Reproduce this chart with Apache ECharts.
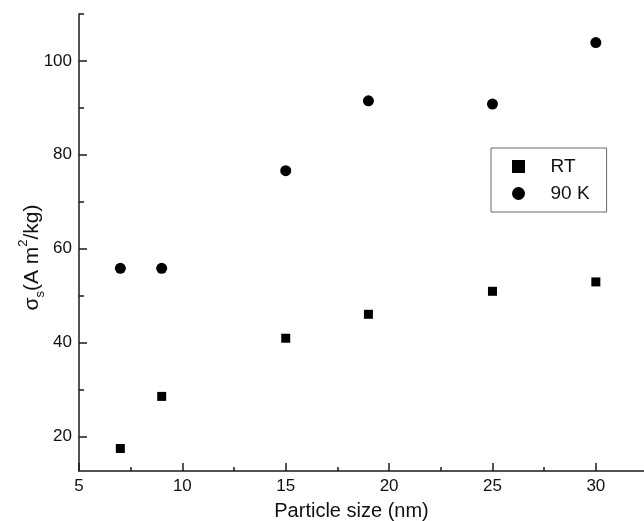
<!DOCTYPE html>
<html>
<head>
<meta charset="utf-8">
<script src="https://cdn.jsdelivr.net/npm/echarts@6/dist/echarts.min.js"></script>
<style>
  html, body { margin: 0; padding: 0; background: #fff; }
  #chart { width: 644px; height: 521px; }
</style>
</head>
<body>
<div id="chart"></div>
<script>
// Particle size (nm) of each sample
const particleSize = [7, 9, 15, 19, 25, 30];
// Saturation magnetisation at room temperature and at 90 K
const sigmaRT = [17.4, 28.5, 40.9, 46.0, 50.9, 52.9];
const sigma90K = [55.8, 55.8, 76.6, 91.5, 90.8, 103.9];

// Axis ticks
const xMajorTicks = [5, 10, 15, 20, 25, 30];
const xMinorTicks = [7.5, 12.5, 17.5, 22.5, 27.5];
const yMajorTicks = [20, 40, 60, 80, 100];
const yMinorTicks = [30, 50, 70, 90, 110];

const FONT = '"Liberation Sans", Arial, Helvetica, sans-serif';
const INK = '#111';
const LINE = '#1a1a1a';
const SQUARE = 'path://M0,0H10V10H0Z';

const xRange = { min: 5, max: 32.33 };
const yRange = { min: 12.6, max: 110 };

const chart = echarts.init(document.getElementById('chart'), null, { renderer: 'canvas' });

function toPairs(xs, ys) {
  return xs.map((x, i) => [x, ys[i]]);
}

const option = {
  backgroundColor: '#fff',
  animation: false,
  textStyle: { fontFamily: FONT, color: INK },
  grid: { left: 79, right: 0, top: 14, bottom: 50, containLabel: false, outerBoundsMode: 'none' },
  legend: {
    orient: 'vertical',
    left: 491,
    top: 148,
    padding: [9, 17, 9, 21],
    itemGap: 8,
    itemWidth: 54,
    itemHeight: 13,
    symbolKeepAspect: true,
    borderColor: '#666',
    borderWidth: 1,
    textStyle: { fontFamily: FONT, fontSize: 19, color: INK },
    data: [
      { name: 'RT', icon: SQUARE, itemStyle: { color: '#000', opacity: 1 } },
      { name: '90 K', icon: 'circle', itemStyle: { color: '#000', opacity: 1 } }
    ]
  },
  xAxis: [
    {
      type: 'value',
      min: xRange.min, max: xRange.max,
      name: 'Particle size (nm)',
      nameLocation: 'middle',
      nameGap: 30,
      nameMoveOverlap: false,
      nameTextStyle: { fontFamily: FONT, fontSize: 20, color: INK, padding: [0, 20, 0, 0] },
      axisLine: { show: true, onZero: false, lineStyle: { color: LINE, width: 1.5 } },
      axisTick: { show: true, inside: true, length: 8, customValues: xMajorTicks,
                  lineStyle: { color: LINE, width: 1.5 } },
      axisLabel: { show: true, customValues: xMajorTicks, fontFamily: FONT, fontSize: 17,
                   color: INK, margin: 7 },
      splitLine: { show: false }
    },
    {
      type: 'value',
      min: xRange.min, max: xRange.max,
      position: 'bottom',
      offset: 0,
      axisLine: { show: false, onZero: false },
      axisTick: { show: true, inside: true, length: 4, customValues: xMinorTicks,
                  lineStyle: { color: LINE, width: 1.5 } },
      axisLabel: { show: false },
      splitLine: { show: false }
    }
  ],
  yAxis: [
    {
      type: 'value',
      min: yRange.min, max: yRange.max,
      name: '{t|σ}{sub|s}{t|(A m}{sup|2}{t|/kg)}',
      nameLocation: 'middle',
      nameRotate: 90,
      nameGap: 32,
      nameMoveOverlap: false,
      nameTextStyle: {
        fontFamily: FONT, color: INK,
        padding: [0, 30, 0, 0],
        rich: {
          t: { fontFamily: FONT, fontSize: 21, color: INK, lineHeight: 30, verticalAlign: 'middle' },
          sub: { fontFamily: FONT, fontSize: 13, color: INK, lineHeight: 13, verticalAlign: 'bottom' },
          sup: { fontFamily: FONT, fontSize: 13, color: INK, lineHeight: 13, verticalAlign: 'top' }
        }
      },
      axisLine: { show: true, onZero: false, lineStyle: { color: LINE, width: 1.5 } },
      axisTick: { show: true, inside: true, length: 8, customValues: yMajorTicks,
                  lineStyle: { color: LINE, width: 1.5 } },
      axisLabel: { show: true, customValues: yMajorTicks, fontFamily: FONT, fontSize: 17,
                   color: INK, margin: 7 },
      splitLine: { show: false }
    },
    {
      type: 'value',
      min: yRange.min, max: yRange.max,
      position: 'left',
      offset: 0,
      axisLine: { show: false, onZero: false },
      axisTick: { show: true, inside: true, length: 5, customValues: yMinorTicks,
                  lineStyle: { color: LINE, width: 1.5 } },
      axisLabel: { show: false },
      splitLine: { show: false }
    }
  ],
  series: [
    {
      name: 'RT',
      type: 'scatter',
      xAxisIndex: 0, yAxisIndex: 0,
      symbol: 'rect',
      symbolSize: 9,
      itemStyle: { color: '#000', opacity: 1 },
      data: toPairs(particleSize, sigmaRT)
    },
    {
      name: '90 K',
      type: 'scatter',
      xAxisIndex: 0, yAxisIndex: 0,
      symbol: 'circle',
      symbolSize: 11,
      itemStyle: { color: '#000', opacity: 1 },
      data: toPairs(particleSize, sigma90K)
    }
  ]
};

chart.setOption(option);
</script>
</body>
</html>
